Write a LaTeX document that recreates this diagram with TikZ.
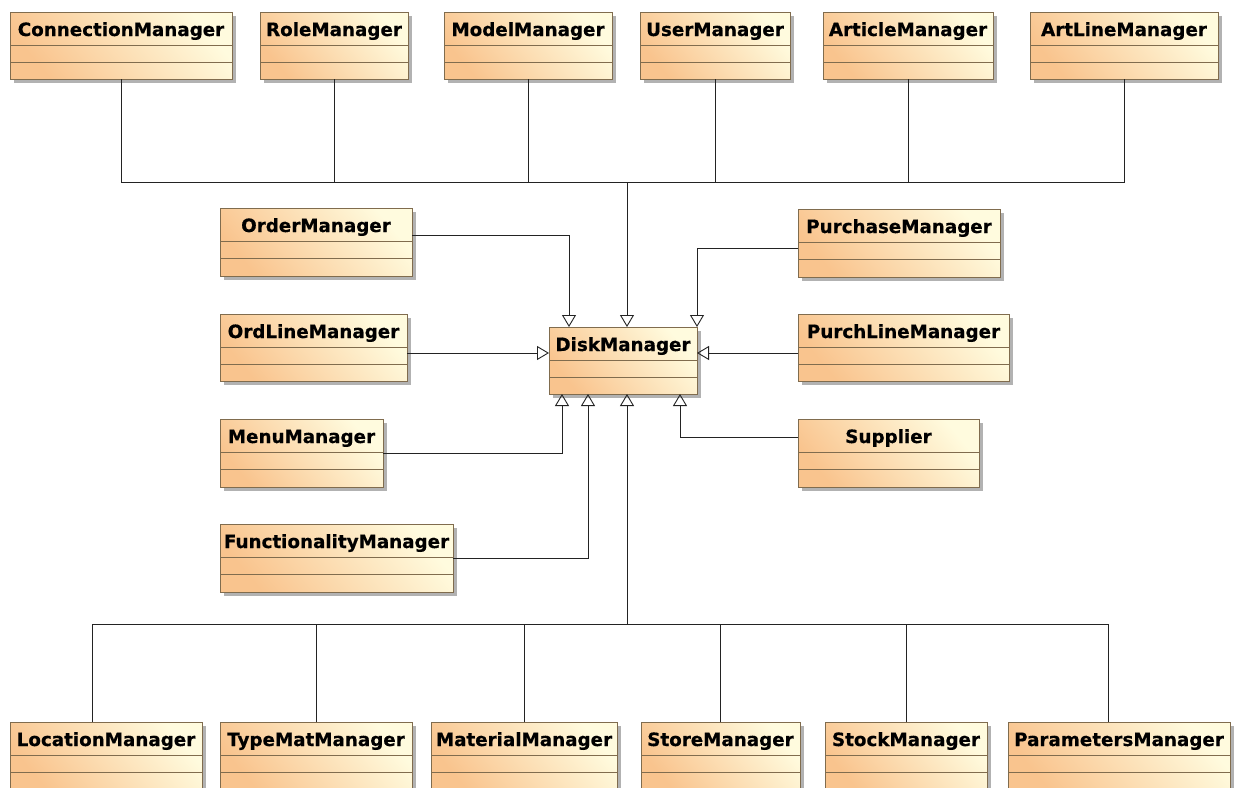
\documentclass[tikz,border=0pt]{standalone}
\usepackage{fontspec}
\setmainfont{DejaVu Sans}
\newfontfamily\classfont{DejaVu Sans}[BoldFeatures={FakeBold=0.5}]
\usetikzlibrary{arrows.meta,shadows}

\definecolor{umlOrange}{RGB}{249,196,142}
\definecolor{umlCream}{RGB}{255,251,222}
\definecolor{umlEdge}{RGB}{128,108,78}
\definecolor{wireCol}{RGB}{35,35,35}

\tikzset{
  classbox/.style={draw=umlEdge, line width=1pt, inner sep=0pt, outer sep=0pt,
    top color=umlCream, bottom color=umlOrange, shading angle=-50,
    drop shadow={shadow xshift=4pt, shadow yshift=-4pt, fill=black, opacity=0.3}},
  divider/.style={draw=umlEdge, line width=1pt},
  classname/.style={font=\classfont\bfseries\fontsize{18.3}{20}\selectfont, text=black,
    anchor=base, inner sep=0pt},
  wire/.style={draw=wireCol, line width=0.9pt},
  genarrow/.style={wire, -{Triangle[open, length=12pt, width=14pt, line width=0.9pt]}}
}

% one UML class: name, left, top, right, bottom, title
\newcommand\umlclass[6]{%
  \node[classbox, minimum width={(#4-#2)*1pt}, minimum height={(#5-#3)*1pt}]
    (#1) at ({(#2+#4)/2},{(#3+#5)/2}) {};
  \draw[divider] ([yshift=-33pt]#1.north west) -- ([yshift=-33pt]#1.north east);
  \draw[divider] ([yshift=-50pt]#1.north west) -- ([yshift=-50pt]#1.north east);
  \node[classname] (#1-t) at ([yshift=-24pt]#1.north) {#6};
}

\begin{document}
\begin{tikzpicture}[x=1pt, y=-1pt]
\fill[white] (0,0) rectangle (1234,787);
\useasboundingbox (0,0) rectangle (1234,787);

% top row
\umlclass{conn}{10}{12}{232}{79}{ConnectionManager}
\umlclass{role}{260}{12}{408}{79}{RoleManager}
\umlclass{model}{444}{12}{612}{79}{ModelManager}
\umlclass{user}{640}{12}{790}{79}{UserManager}
\umlclass{art}{823}{12}{993}{79}{ArticleManager}
\umlclass{artl}{1030}{12}{1218}{79}{ArtLineManager}

% middle
\umlclass{order}{220}{208}{412}{276}{OrderManager}
\umlclass{purch}{798}{209}{1000}{277}{PurchaseManager}
\umlclass{ordl}{220}{314}{407}{381}{OrdLineManager}
\umlclass{disk}{549}{327}{697}{394}{DiskManager}
\umlclass{purchl}{798}{314}{1009}{381}{PurchLineManager}
\umlclass{menu}{220}{419}{383}{487}{MenuManager}
\umlclass{supp}{798}{419}{979}{487}{Supplier}
\umlclass{func}{220}{524}{453}{592}{FunctionalityManager}

% bottom row
\umlclass{loc}{10}{722}{202}{789}{LocationManager}
\umlclass{type}{220}{722}{412}{789}{TypeMatManager}
\umlclass{mat}{431}{722}{617}{789}{MaterialManager}
\umlclass{store}{641}{722}{800}{789}{StoreManager}
\umlclass{stock}{825}{722}{987}{789}{StockManager}
\umlclass{param}{1008}{722}{1230}{789}{ParametersManager}

% junctions of the two trees
\coordinate (junT) at (627,182);
\coordinate (junB) at (627,624);

% upper tree
\draw[wire] (conn.south) -- (conn.south |- junT) -- (artl.south |- junT) -- (artl.south);
\foreach \n in {role,model,user,art}
  \draw[wire] (\n.south) -- (\n.south |- junT);
\draw[genarrow] (junT) -- (junT |- disk.north);

% lower tree
\coordinate (locTop) at ([xshift=-14pt]loc.north);
\coordinate (parTop) at ([xshift=-11pt]param.north);
\draw[wire] (locTop) -- (locTop |- junB) -- (parTop |- junB) -- (parTop);
\foreach \n in {type,mat,store,stock}
  \draw[wire] (\n.north) -- (\n.north |- junB);
\draw[genarrow] (junB) -- (junB |- disk.south);

% side generalizations
\coordinate (dl) at ([yshift=7.5pt]disk.west);
\coordinate (dr) at ([yshift=7.5pt]disk.east);
\draw[genarrow] ([yshift=7pt]order.east) -| ([xshift=-54pt]disk.north);
\draw[genarrow] ([yshift=-5pt]purch.west) -| (disk.north east);
\draw[genarrow] (ordl.east |- dl) -- (dl);
\draw[genarrow] (purchl.west |- dr) -- (dr);
\draw[genarrow] (menu.east) -| ([xshift=-61pt]disk.south);
\draw[genarrow] (func.east) -| ([xshift=-35pt]disk.south);
\draw[genarrow] ([yshift=16pt]supp.west) -| ([xshift=57pt]disk.south);
\end{tikzpicture}
\end{document}
